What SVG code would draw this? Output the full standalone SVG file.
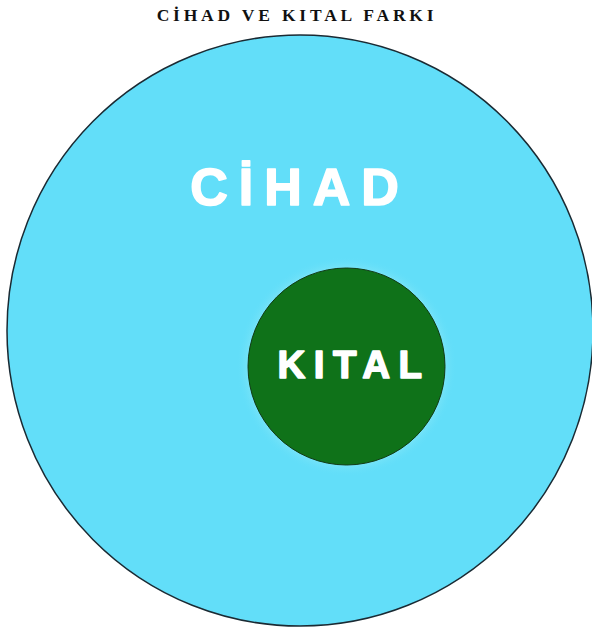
<svg xmlns="http://www.w3.org/2000/svg" width="592" height="628" viewBox="0 0 592 628">
<style>
.title{font-family:"Liberation Serif","Times New Roman",serif;font-weight:bold;font-size:17.5px;letter-spacing:3.8px;fill:#111}
.lbl{font-family:"Liberation Sans",Arial,sans-serif;font-weight:bold;fill:#fff;stroke:#fff;stroke-width:1.6;stroke-linejoin:round}
</style>
<defs>
<radialGradient id="glow" cx="0.5" cy="0.5" r="0.5">
<stop offset="0.85" stop-color="#8ee9f7" stop-opacity="0.9"/>
<stop offset="1" stop-color="#62def9" stop-opacity="0"/>
</radialGradient>
</defs>
<rect width="592" height="628" fill="#fff"/>
<text class="title" x="297" y="21" text-anchor="middle">CİHAD VE KITAL FARKI</text>
<g id="cihad">
<ellipse cx="300" cy="330.5" rx="293" ry="295.5" fill="#62def9" stroke="#1a2a33" stroke-width="1.5"/>
<text class="lbl" x="300" y="205" text-anchor="middle" font-size="52" letter-spacing="11">CİHAD</text>
</g>
<g id="kital">
<circle cx="346.5" cy="366.5" r="110" fill="url(#glow)"/>
<circle cx="346.5" cy="366.5" r="98.5" fill="#0f7219" stroke="#103a14" stroke-width="1"/>
<text class="lbl" x="354" y="378" text-anchor="middle" font-size="38.5" letter-spacing="8.5">KITAL</text>
</g>
</svg>
